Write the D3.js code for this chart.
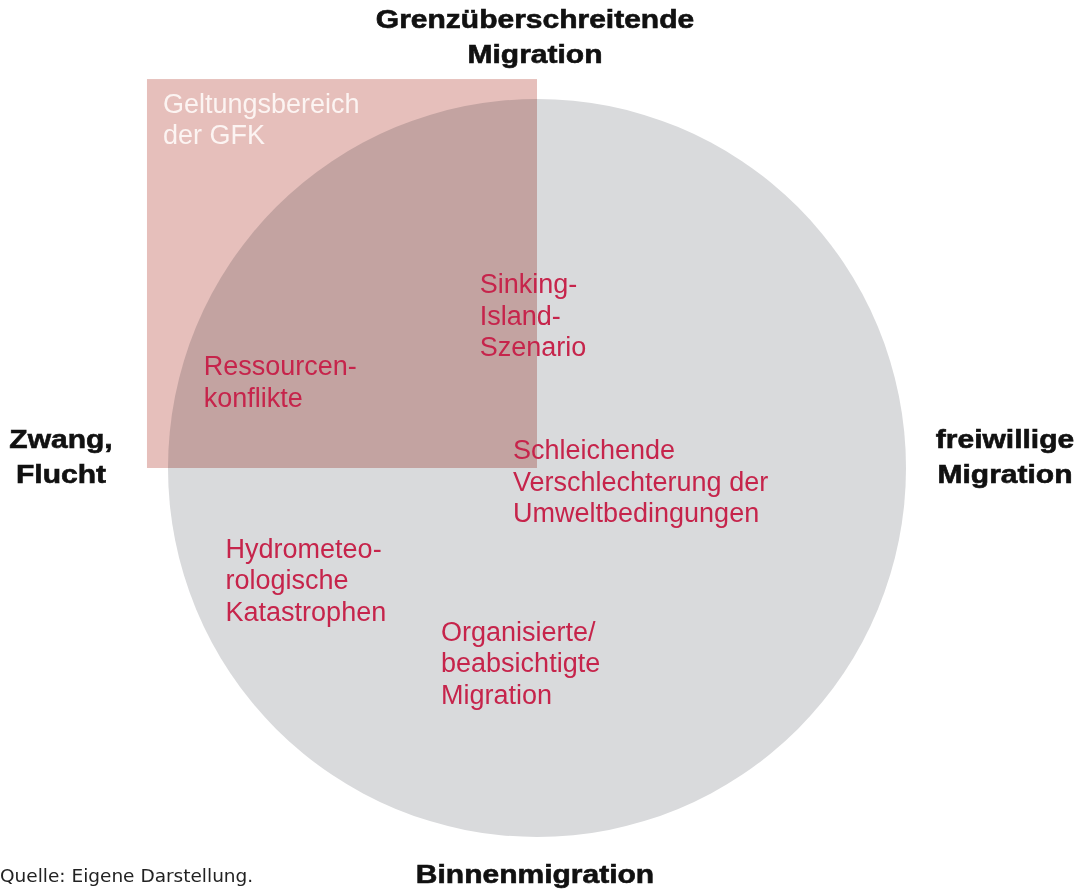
<!DOCTYPE html>
<html><head><meta charset="utf-8">
<script src="https://cdn.jsdelivr.net/npm/d3@7"></script>
<style>html,body{margin:0;padding:0;background:#fff;}svg{display:block;}</style>
</head><body>
<script>
// Axis pole labels
const poleTop = ["Grenzüberschreitende", "Migration"];
const poleBottom = ["Binnenmigration"];
const poleLeft = ["Zwang,", "Flucht"];
const poleRight = ["freiwillige", "Migration"];
// Scope box (GFK) in concept space: x forced(-1)..voluntary(1), y internal(-1)..cross-border(1)
const scopeLabel = ["Geltungsbereich", "der GFK"];
const scopeX = [-1.057, 0];
const scopeY = [0, 1.054];
// Phenomena (text lines) and their concept-space anchors
const phenomena = [
  ["Sinking-", "Island-", "Szenario"],
  ["Ressourcen-", "konflikte"],
  ["Schleichende", "Verschlechterung der", "Umweltbedingungen"],
  ["Hydrometeo-", "rologische", "Katastrophen"],
  ["Organisierte/", "beabsichtigte", "Migration"]
];
const phenX = [-0.155, -0.903, -0.065, -0.844, -0.260];
const phenY = [0.503, 0.281, 0.053, -0.214, -0.439];
const sourceNote = "Quelle: Eigene Darstellung.";

const W = 1091, H = 889;
const svg = d3.select("body").append("svg").attr("width", W).attr("height", H);
const cx = 537, cy = 468, R = 369;
const x = d3.scaleLinear().domain([-1, 1]).range([cx - R, cx + R]);
const y = d3.scaleLinear().domain([-1, 1]).range([cy + R, cy - R]);

svg.append("circle").attr("cx", x(0)).attr("cy", y(0)).attr("r", x(1) - x(0)).attr("fill", "#d9dadc");
svg.append("rect")
  .attr("x", x(scopeX[0])).attr("y", y(scopeY[1]))
  .attr("width", x(scopeX[1]) - x(scopeX[0])).attr("height", y(scopeY[0]) - y(scopeY[1]))
  .attr("fill", "#e6bfbb").style("mix-blend-mode", "multiply");

const sans = "'Liberation Sans', Arial, Helvetica, sans-serif";
const wide = "'DejaVu Sans', Verdana, sans-serif";
const lh = 31.5;
// scope label
svg.append("text").attr("font-family", sans).attr("font-size", 27).attr("fill", "#fcf4f2")
  .selectAll("tspan").data(scopeLabel).join("tspan")
  .attr("x", x(scopeX[0]) + 16).attr("y", (d, i) => y(scopeY[1]) + 34 + i * 30.5).text(d => d);

// phenomena
phenomena.forEach((lines, k) => {
  svg.append("text").attr("font-family", sans).attr("font-size", 27).attr("fill", "#c6244b")
    .selectAll("tspan").data(lines).join("tspan")
    .attr("x", x(phenX[k])).attr("y", (d, i) => y(phenY[k]) + 11 + i * lh).text(d => d);
});

function bold(lines, px, py) {
  svg.append("g").attr("transform", `translate(${px},${py}) scale(1.2,1)`)
    .append("text").attr("font-family", sans).attr("font-weight", "bold").attr("font-size", 25)
    .attr("fill", "#111").attr("stroke", "#111").attr("stroke-width", 0.6).attr("text-anchor", "middle")
    .selectAll("tspan").data(lines).join("tspan")
    .attr("x", 0).attr("y", (d, i) => i * 35).text(d => d);
}
bold(poleTop, 535, 28);
bold(poleBottom, 535, 883);
bold(poleLeft, 61, 448);
bold(poleRight, 1005, 448);

svg.append("text").attr("font-family", wide).attr("font-size", 18.5).attr("fill", "#222")
  .attr("x", 0).attr("y", 882).text(sourceNote);
</script>
</body></html>
